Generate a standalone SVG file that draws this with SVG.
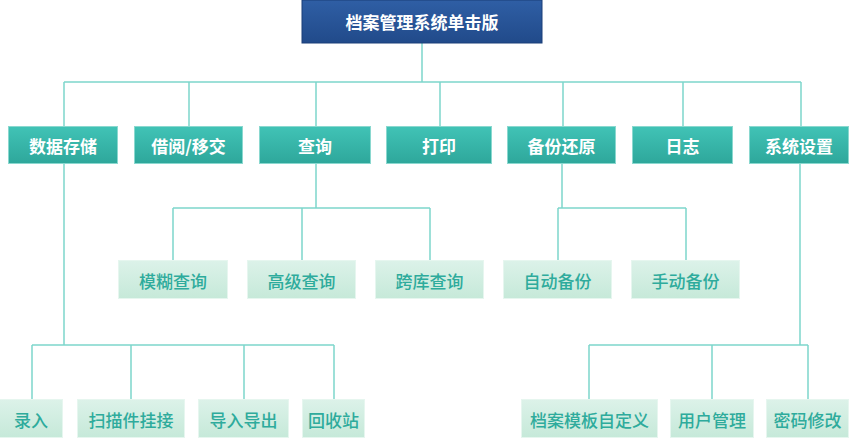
<svg xmlns="http://www.w3.org/2000/svg" width="850" height="438" viewBox="0 0 850 438">
<defs>
<linearGradient id="gTop" x1="0" y1="0" x2="0" y2="1"><stop offset="0" stop-color="#2f5fa5"/><stop offset="1" stop-color="#214a8a"/></linearGradient>
<linearGradient id="gL1" x1="0" y1="0" x2="0" y2="1"><stop offset="0" stop-color="#41c3b6"/><stop offset="1" stop-color="#2ea79b"/></linearGradient>
<linearGradient id="gL2" x1="0" y1="0" x2="0" y2="1"><stop offset="0" stop-color="#dcf2e9"/><stop offset="1" stop-color="#c6e9d9"/></linearGradient>
</defs>
<style>
text{font-family:"Noto Sans CJK SC","Noto Sans",sans-serif;font-size:17px;text-anchor:middle;dominant-baseline:central}
.top rect{fill:url(#gTop);stroke:#1b3f78;stroke-width:1}
.top text{fill:#fff;font-weight:bold}
.l1 rect{fill:url(#gL1);stroke:#8ad8cf;stroke-width:1}
.l1 text{fill:#fff;font-weight:bold}
.l2 rect{fill:url(#gL2);stroke:#e6f6ef;stroke-width:1}
.l2 text{fill:#2eab9c;font-weight:500}
.conn path{fill:none;stroke:#7dd6cc;stroke-width:1.5}
</style>
<g class="conn">
<path d="M422 43V82M64 82H801M64 82V126M189 82V126M316 82V126M440 82V126M563 82V126M683 82V126M801 82V126"/>
<path d="M316 164V208M173 208H430M173 208V260M302 208V260M430 208V260"/>
<path d="M562 164V208M558 208H686M558 208V260M686 208V260"/>
<path d="M64 164V345M32 345H334M32 345V399M131 345V399M244 345V399M334 345V399"/>
<path d="M800 164V345M589 345H808M589 345V399M712 345V399M808 345V399"/>
</g>
<g id="root" class="top"><rect x="302" y="0" width="240" height="43"/><text x="422" y="21">档案管理系统单击版</text></g>
<g id="n1" class="l1"><rect x="8.5" y="126.5" width="109" height="37"/><text x="63" y="145">数据存储</text></g>
<g id="n2" class="l1"><rect x="134.5" y="126.5" width="108" height="37"/><text x="188.5" y="145">借阅/移交</text></g>
<g id="n3" class="l1"><rect x="259.5" y="126.5" width="111" height="37"/><text x="315" y="145">查询</text></g>
<g id="n4" class="l1"><rect x="386.5" y="126.5" width="105" height="37"/><text x="439" y="145">打印</text></g>
<g id="n5" class="l1"><rect x="507.5" y="126.5" width="108" height="37"/><text x="561.5" y="145">备份还原</text></g>
<g id="n6" class="l1"><rect x="632.5" y="126.5" width="100" height="37"/><text x="682.5" y="145">日志</text></g>
<g id="n7" class="l1"><rect x="749.5" y="126.5" width="99" height="37"/><text x="799" y="145">系统设置</text></g>
<g id="q1" class="l2"><rect x="118.5" y="260.5" width="109" height="38"/><text x="173" y="280">模糊查询</text></g>
<g id="q2" class="l2"><rect x="247.5" y="260.5" width="108" height="38"/><text x="301.5" y="280">高级查询</text></g>
<g id="q3" class="l2"><rect x="375.5" y="260.5" width="108" height="38"/><text x="429.5" y="280">跨库查询</text></g>
<g id="b1" class="l2"><rect x="503.5" y="260.5" width="108" height="38"/><text x="557.5" y="280">自动备份</text></g>
<g id="b2" class="l2"><rect x="631.5" y="260.5" width="108" height="38"/><text x="685.5" y="280">手动备份</text></g>
<g id="d1" class="l2"><rect x="-1" y="399.5" width="63.5" height="38"/><text x="31" y="419">录入</text></g>
<g id="d2" class="l2"><rect x="77.5" y="399.5" width="107" height="38"/><text x="131" y="419">扫描件挂接</text></g>
<g id="d3" class="l2"><rect x="198.5" y="399.5" width="90" height="38"/><text x="243.5" y="419">导入导出</text></g>
<g id="d4" class="l2"><rect x="302.5" y="399.5" width="62" height="38"/><text x="333.5" y="419">回收站</text></g>
<g id="s1" class="l2"><rect x="521.5" y="399.5" width="136" height="38"/><text x="589.5" y="419">档案模板自定义</text></g>
<g id="s2" class="l2"><rect x="670.5" y="399.5" width="83" height="38"/><text x="712" y="419">用户管理</text></g>
<g id="s3" class="l2"><rect x="766.5" y="399.5" width="82" height="38"/><text x="807.5" y="419">密码修改</text></g>
</svg>
